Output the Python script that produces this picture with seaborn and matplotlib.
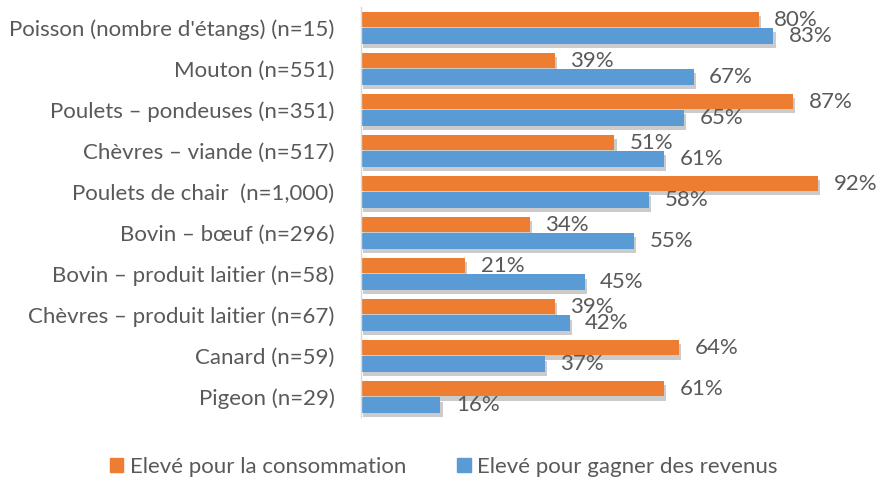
import matplotlib
matplotlib.use("Agg")
from matplotlib import pyplot as plt
import matplotlib.patheffects as pe
import seaborn as sns
import pandas as pd

CATEGORIES = ["Poisson (nombre d'étangs) (n=15)", "Mouton (n=551)", "Poulets – pondeuses (n=351)",
              "Chèvres – viande (n=517)", "Poulets de chair  (n=1,000)", "Bovin – bœuf (n=296)",
              "Bovin – produit laitier (n=58)", "Chèvres – produit laitier (n=67)",
              "Canard (n=59)", "Pigeon (n=29)"]
CONSOMMATION = [80, 39, 87, 51, 92, 34, 21, 39, 64, 61]
REVENUS = [83, 67, 65, 61, 58, 55, 45, 42, 37, 16]
SERIES = ["Elevé pour la consommation", "Elevé pour gagner des revenus"]
COLORS = ["#ED7D31", "#5B9BD5"]
GREY = "#595959"

sns.set_theme(style="white")
plt.rcParams['font.family'] = ['Lato', 'DejaVu Sans']

df = pd.DataFrame({
    "cat": CATEGORIES * 2,
    "val": CONSOMMATION + REVENUS,
    "serie": [SERIES[0]] * len(CATEGORIES) + [SERIES[1]] * len(CATEGORIES),
})

fig = plt.figure(figsize=(8.77, 4.82), dpi=100)
ax = fig.add_axes([0.4116, 0.134, 0.5667, 0.851])
sns.barplot(data=df, y="cat", x="val", hue="serie", hue_order=SERIES, order=CATEGORIES,
            palette=COLORS, orient="h", width=0.8, gap=0.06, ax=ax, legend=False,
            saturation=1, errorbar=None)

# soft drop shadow like the office chart
shadow = [pe.SimplePatchShadow(offset=(1.5, -3), shadow_rgbFace="#555555", alpha=0.3), pe.Normal()]
for p in ax.patches:
    p.set_path_effects(shadow)
    p.set_edgecolor("none")

for cont in ax.containers:
    ax.bar_label(cont, fmt="%d%%", padding=11, fontsize=16, color=GREY)

ax.set_xlim(0, 100)
ax.set_ylim(9.5, -0.5)
ax.set_xlabel("")
ax.set_ylabel("")
ax.set_xticks([])
ax.tick_params(axis="y", length=0, pad=19, labelsize=16, labelcolor=GREY)
for s in ["top", "right", "bottom"]:
    ax.spines[s].set_visible(False)
ax.spines["left"].set_color("#D9D9D9")
ax.spines["left"].set_linewidth(1)

handles = [plt.Rectangle((0, 0), 1, 1, color=c) for c in COLORS]
fig.legend(handles, SERIES, loc="center", bbox_to_anchor=(0.506, 0.031), ncol=2, frameon=False,
           fontsize=16, labelcolor=GREY, handlelength=0.6, handleheight=0.6, handletextpad=0.3,
           columnspacing=2.3)

fig.savefig("out.png", dpi=100)
